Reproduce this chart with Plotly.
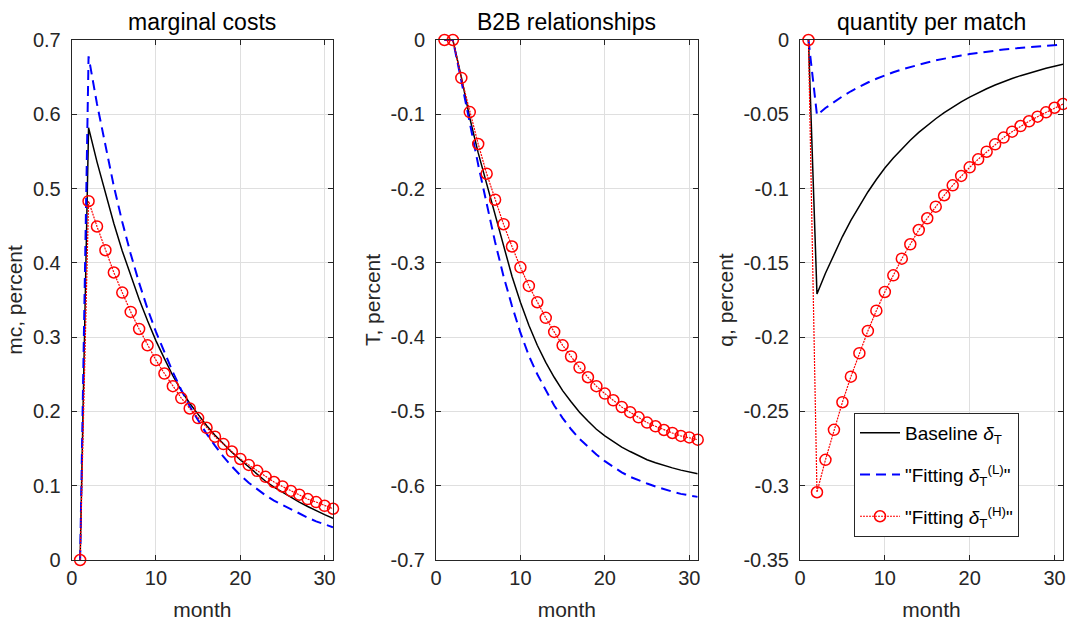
import plotly.graph_objects as go

# ---------------- data ----------------
months = list(range(1, 32))

mc_base = [0, 0.582, 0.536, 0.493, 0.453, 0.416, 0.382, 0.351, 0.322, 0.295, 0.271,
           0.248, 0.228, 0.211, 0.196, 0.181, 0.168, 0.156, 0.145, 0.135, 0.125,
           0.115, 0.106, 0.098, 0.091, 0.084, 0.078, 0.072, 0.066, 0.061, 0.056]
mc_low = [0, 0.678, 0.614, 0.556, 0.503, 0.455, 0.412, 0.373, 0.338, 0.307, 0.279,
          0.253, 0.229, 0.207, 0.188, 0.170, 0.154, 0.139, 0.126, 0.114, 0.104,
          0.095, 0.087, 0.080, 0.074, 0.068, 0.062, 0.057, 0.052, 0.048, 0.044]
mc_high = [0, 0.483, 0.449, 0.417, 0.387, 0.360, 0.334, 0.311, 0.289, 0.269, 0.251,
           0.234, 0.218, 0.204, 0.191, 0.178, 0.166, 0.156, 0.146, 0.136, 0.128,
           0.120, 0.112, 0.105, 0.099, 0.093, 0.088, 0.082, 0.078, 0.073, 0.069]

T_base = [0, 0, -0.050, -0.105, -0.152, -0.194, -0.237, -0.279, -0.318, -0.353, -0.384,
          -0.411, -0.434, -0.454, -0.472, -0.487, -0.501, -0.513, -0.524, -0.533, -0.541,
          -0.548, -0.554, -0.560, -0.565, -0.569, -0.573, -0.576, -0.579, -0.581, -0.584]
T_low = [0, 0, -0.055, -0.113, -0.168, -0.220, -0.272, -0.318, -0.358, -0.394, -0.425,
         -0.450, -0.472, -0.492, -0.509, -0.524, -0.537, -0.548, -0.558, -0.567, -0.575,
         -0.582, -0.588, -0.593, -0.597, -0.601, -0.605, -0.608, -0.611, -0.613, -0.615]
T_high = [0, 0, -0.051, -0.097, -0.140, -0.180, -0.215, -0.248, -0.278, -0.306, -0.331,
          -0.353, -0.374, -0.393, -0.411, -0.426, -0.441, -0.454, -0.466, -0.476, -0.485,
          -0.494, -0.501, -0.508, -0.515, -0.520, -0.525, -0.529, -0.533, -0.535, -0.538]

q_base = [0, -0.1710, -0.1570, -0.1441, -0.1323, -0.1214, -0.1115, -0.1023, -0.0939, -0.0862,
          -0.0794, -0.0732, -0.0675, -0.0622, -0.0574, -0.0530, -0.0489, -0.0451, -0.0416,
          -0.0384, -0.0355, -0.0328, -0.0303, -0.0280, -0.0259, -0.0240, -0.0222, -0.0205,
          -0.0190, -0.0176, -0.0163]
q_low = [0, -0.0505, -0.0458, -0.0416, -0.0379, -0.0345, -0.0314, -0.0286, -0.0261, -0.0238,
         -0.0217, -0.0198, -0.0181, -0.0165, -0.0151, -0.0137, -0.0125, -0.0114, -0.0104,
         -0.0095, -0.0086, -0.0078, -0.0071, -0.0064, -0.0058, -0.0053, -0.0047, -0.0043,
         -0.0038, -0.0034, -0.0031]
q_high = [0, -0.3044, -0.2826, -0.2624, -0.2438, -0.2266, -0.2108, -0.1958, -0.1822, -0.1696,
          -0.1584, -0.1472, -0.1375, -0.1279, -0.1200, -0.1122, -0.1045, -0.0978, -0.0915,
          -0.0857, -0.0803, -0.0752, -0.0702, -0.0657, -0.0617, -0.0579, -0.0547, -0.0516,
          -0.0487, -0.0456, -0.0431]

titles = ["marginal costs", "B2B relationships", "quantity per match"]
ylabels = ["mc, percent", "T, percent", "q, percent"]
xlabel = "month"
legend_names = ["Baseline <i>δ</i><sub>T</sub>",
                "\"Fitting <i>δ</i><sub>T</sub><sup>(L)</sup>\"",
                "\"Fitting <i>δ</i><sub>T</sub><sup>(H)</sup>\""]

x_ticks = [0, 10, 20, 30]
x_ticktext = ["0", "10", "20", "30"]
y_ticks = [
    [0, 0.1, 0.2, 0.3, 0.4, 0.5, 0.6, 0.7],
    [-0.7, -0.6, -0.5, -0.4, -0.3, -0.2, -0.1, 0],
    [-0.35, -0.3, -0.25, -0.2, -0.15, -0.1, -0.05, 0],
]
y_ticktext = [
    ["0", "0.1", "0.2", "0.3", "0.4", "0.5", "0.6", "0.7"],
    ["-0.7", "-0.6", "-0.5", "-0.4", "-0.3", "-0.2", "-0.1", "0"],
    ["-0.35", "-0.3", "-0.25", "-0.2", "-0.15", "-0.1", "-0.05", "0"],
]
y_ranges = [[0, 0.7], [-0.7, 0], [-0.35, 0]]
x_range = [0, 31]

# ---------------- styling ----------------
FONT = "Liberation Sans, Arial, Helvetica, sans-serif"
AX = "#262626"
GRID = "#dfdfdf"
W, H = 1067, 624
x_domains = [[71.7 / W, 333 / W], [436 / W, 697.7 / W], [800 / W, 1063 / W]]
y_domain = [1 - 560 / H, 1 - 40 / H]

fig = go.Figure()
series = [(mc_base, mc_low, mc_high), (T_base, T_low, T_high), (q_base, q_low, q_high)]
for i, (b, lo, hi) in enumerate(series):
    xa = "x" if i == 0 else f"x{i+1}"
    ya = "y" if i == 0 else f"y{i+1}"
    show = (i == 2)
    fig.add_trace(go.Scatter(x=months, y=b, mode="lines", name=legend_names[0],
                             legendgroup="base",
                             line=dict(color="#000000", width=1.5),
                             showlegend=show, xaxis=xa, yaxis=ya))
    fig.add_trace(go.Scatter(x=months, y=lo, mode="lines", name=legend_names[1],
                             legendgroup="low",
                             line=dict(color="#0000ff", width=2, dash="10px,6px"),
                             showlegend=show, xaxis=xa, yaxis=ya))
    fig.add_trace(go.Scatter(x=months, y=hi, mode="lines+markers", name=legend_names[2],
                             legendgroup="high",
                             line=dict(color="#ff0000", width=1.2, dash="2px,1px"),
                             marker=dict(symbol="circle-open", size=11,
                                         color="#ff0000", line=dict(width=1.5, color="#ff0000")),
                             cliponaxis=False,
                             showlegend=show, xaxis=xa, yaxis=ya))

layout = dict(
    width=W, height=H,
    margin=dict(l=0, r=0, t=0, b=0),
    paper_bgcolor="white", plot_bgcolor="white",
    font=dict(family=FONT, color=AX, size=20),
    showlegend=True,
    legend=dict(x=854 / W, y=1 - 413 / H, xanchor="left", yanchor="top",
                bgcolor="white", bordercolor=AX, borderwidth=1,
                font=dict(family=FONT, size=19, color="#000000"),
                itemwidth=40, tracegroupgap=14, traceorder="grouped"),
)
annotations = []
for i in range(3):
    sx = "" if i == 0 else str(i + 1)
    layout[f"xaxis{sx}"] = dict(
        domain=x_domains[i], range=x_range, anchor=f"y{sx}",
        tickvals=x_ticks, ticktext=x_ticktext,
        showline=True, linecolor=AX, linewidth=1, mirror="ticks",
        ticks="inside", ticklen=5, tickcolor=AX, tickwidth=1,
        showgrid=True, gridcolor=GRID, gridwidth=1, zeroline=False,
        tickfont=dict(family=FONT, size=20, color=AX),
        title=dict(text=xlabel, font=dict(family=FONT, size=21, color=AX), standoff=14),
        automargin=False, fixedrange=True,
    )
    layout[f"yaxis{sx}"] = dict(
        domain=y_domain, range=y_ranges[i], anchor=f"x{sx}",
        tickvals=y_ticks[i], ticktext=y_ticktext[i],
        showline=True, linecolor=AX, linewidth=1, mirror="ticks",
        ticks="inside", ticklen=5, tickcolor=AX, tickwidth=1,
        showgrid=True, gridcolor=GRID, gridwidth=1, zeroline=False,
        tickfont=dict(family=FONT, size=20, color=AX),
        ticklabelstandoff=6,
        title=dict(text=ylabels[i], font=dict(family=FONT, size=21, color=AX), standoff=4),
        automargin=False, fixedrange=True,
    )
    annotations.append(dict(
        text=titles[i], x=(x_domains[i][0] + x_domains[i][1]) / 2, y=1 - 22 / H,
        xref="paper", yref="paper", xanchor="center", yanchor="middle",
        showarrow=False, font=dict(family=FONT, size=23, color="#000000"),
    ))
layout["annotations"] = annotations
fig.update_layout(**layout)
fig.write_html("out.html")
